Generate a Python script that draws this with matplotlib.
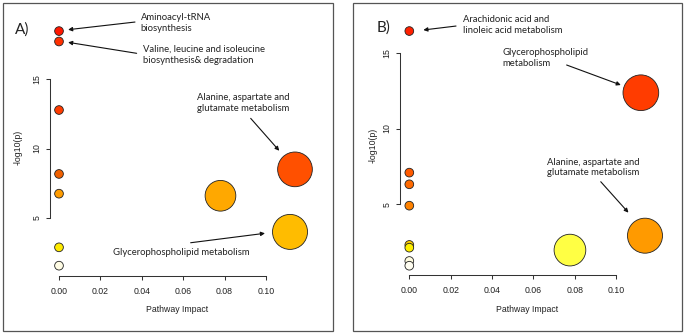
import matplotlib
matplotlib.use("Agg")
import matplotlib.pyplot as plt
from matplotlib.patches import Rectangle

# ---- Panel A data -------------------------------------------------------
impact_a = [0.0, 0.0, 0.0, 0.0, 0.0, 0.0, 0.0, 0.078, 0.114, 0.1116]
logp_a = [18.45, 17.7, 12.77, 8.17, 6.75, 2.89, 1.57, 6.6, 8.5, 4.0]
colors_a = ["#FF1800", "#FF3000", "#FF3C00", "#F06000", "#FF9C00",
            "#FFEB00", "#FFFCE4", "#FFA800", "#FF5000", "#FFBC00"]
diam_a = [8.7, 8.7, 8.7, 8.7, 8.7, 8.7, 8.7, 30.7, 34.7, 35.0]

# ---- Panel B data -------------------------------------------------------
impact_b = [0.0, 0.0, 0.0, 0.0, 0.0, 0.0, 0.0, 0.0, 0.112, 0.114, 0.0777]
logp_b = [16.43, 7.09, 6.32, 4.91, 2.32, 2.14, 1.26, 0.95, 12.36, 2.93, 1.98]
colors_b = ["#FF2000", "#FF5A00", "#FF6A00", "#FF8200", "#FFCC00",
            "#FFF000", "#FFFCE0", "#FFFDF0", "#FF3C00", "#FF9A00", "#FFFF44"]
diam_b = [8.7, 8.7, 8.7, 8.7, 8.7, 8.7, 8.7, 8.7, 35.7, 35.0, 31.7]

x_ticks = [0.00, 0.02, 0.04, 0.06, 0.08, 0.10]
x_ticklabels = ["0.00", "0.02", "0.04", "0.06", "0.08", "0.10"]
y_ticks = [5, 10, 15]
y_ticklabels = ["5", "10", "15"]

W, H = 685, 335
fig = plt.figure(figsize=(W / 100, H / 100), dpi=100)
fig.patch.set_facecolor("white")

TICK_FONT = "Liberation Sans"
NOTE_FONT = "Lato"
AX_COLOR = "#333333"


def px_axes(left, top, right, bottom):
    """Create axes from pixel edges (origin at the top-left of the figure)."""
    return fig.add_axes([left / W, (H - bottom) / H, (right - left) / W, (bottom - top) / H])


def panel_frame(left, top, right, bottom):
    fig.patches.append(Rectangle((left / W, (H - bottom) / H), (right - left) / W,
                                 (bottom - top) / H, transform=fig.transFigure,
                                 fill=False, edgecolor="#555555", linewidth=0.9))


def style_axes(ax, xlim, ylim, xlab_pos, ylab_pos):
    ax.set_xlim(*xlim)
    ax.set_ylim(*ylim)
    ax.patch.set_alpha(0)
    for side in ("top", "right"):
        ax.spines[side].set_visible(False)
    for side in ("left", "bottom"):
        ax.spines[side].set_color(AX_COLOR)
        ax.spines[side].set_linewidth(0.75)
    ax.spines["bottom"].set_bounds(x_ticks[0], x_ticks[-1])
    ax.spines["left"].set_bounds(y_ticks[0], y_ticks[-1])
    ax.set_xticks(x_ticks)
    ax.set_xticklabels(x_ticklabels, fontfamily=TICK_FONT, fontsize=6.3, color="#222222")
    ax.set_yticks(y_ticks)
    ax.set_yticklabels(y_ticklabels, fontfamily=TICK_FONT, fontsize=6.3, color="#222222",
                       rotation=90, va="center", ha="right")
    ax.tick_params(axis="both", direction="out", length=2.6, width=0.75, color=AX_COLOR)
    ax.tick_params(axis="x", pad=5.0)
    ax.tick_params(axis="y", pad=3.6)
    ax.set_xlabel("Pathway Impact", fontfamily=TICK_FONT, fontsize=6.3, color="#222222", va="center")
    ax.set_ylabel("-log10(p)", fontfamily=TICK_FONT, fontsize=6.3, color="#222222", va="center")
    ax.xaxis.set_label_coords(*xlab_pos)
    ax.yaxis.set_label_coords(*ylab_pos)


def note(ax, s, x, y):
    ax.text(x, y, s, fontfamily=NOTE_FONT, fontsize=6.8, color="#222222",
            ha="left", va="center", linespacing=1.25, clip_on=False)


def arrow(ax, tail, head):
    ax.annotate("", xy=head, xytext=tail, annotation_clip=False,
                arrowprops=dict(arrowstyle="-|>", color="#111111", lw=0.8,
                                mutation_scale=6, shrinkA=0, shrinkB=0))


def bubbles(ax, x, y, colors, diam):
    sizes = [(d * 0.72) ** 2 for d in diam]
    ax.scatter(x, y, s=sizes, c=colors, edgecolors="#222222", linewidths=0.6,
               clip_on=False, zorder=3)


# ---- Panel A ------------------------------------------------------------
panel_frame(3, 3, 333, 331)
ax_a = px_axes(50, 3, 332, 276)
style_axes(ax_a, (-0.00435, 0.13188), (0.827, 20.47), (0.45, -0.121), (-0.1135, 0.4725))
bubbles(ax_a, impact_a, logp_a, colors_a, diam_a)
ax_a.text(-0.0215, 18.53, "A)", fontfamily=NOTE_FONT, fontsize=11, color="#222222",
          ha="left", va="center", clip_on=False)
note(ax_a, "Aminoacyl-tRNA\nbiosynthesis", 0.0395, 19.03)
arrow(ax_a, (0.0367, 19.1), (0.0044, 18.55))
note(ax_a, "Valine, leucine and isoleucine\nbiosynthesis& degradation", 0.0404, 16.73)
arrow(ax_a, (0.0375, 16.85), (0.0044, 17.64))
note(ax_a, "Alanine, aspartate and\nglutamate metabolism", 0.0665, 13.25)
arrow(ax_a, (0.0926, 12.17), (0.1064, 9.84))
note(ax_a, "Glycerophospholipid metabolism", 0.0262, 2.53)
arrow(ax_a, (0.0636, 3.22), (0.0995, 3.90))

# ---- Panel B ------------------------------------------------------------
panel_frame(353, 3, 682, 331)
ax_b = px_axes(400, 3, 682, 275.3)
style_axes(ax_b, (-0.0045, 0.1319), (0.317, 18.28), (0.449, -0.125), (-0.0947, 0.4785))
bubbles(ax_b, impact_b, logp_b, colors_b, diam_b)
ax_b.text(-0.0158, 16.63, "B)", fontfamily=NOTE_FONT, fontsize=11, color="#222222",
          ha="left", va="center", clip_on=False)
note(ax_b, "Arachidonic acid and\nlinoleic acid metabolism", 0.0261, 16.83)
arrow(ax_b, (0.0226, 16.76), (0.0068, 16.50))
note(ax_b, "Glycerophospholipid\nmetabolism", 0.0452, 14.65)
arrow(ax_b, (0.0761, 14.19), (0.1023, 12.87))
note(ax_b, "Alanine, aspartate and\nglutamate metabolism", 0.0668, 7.43)
arrow(ax_b, (0.0926, 6.49), (0.106, 4.45))

fig.savefig("out.png", dpi=100)
